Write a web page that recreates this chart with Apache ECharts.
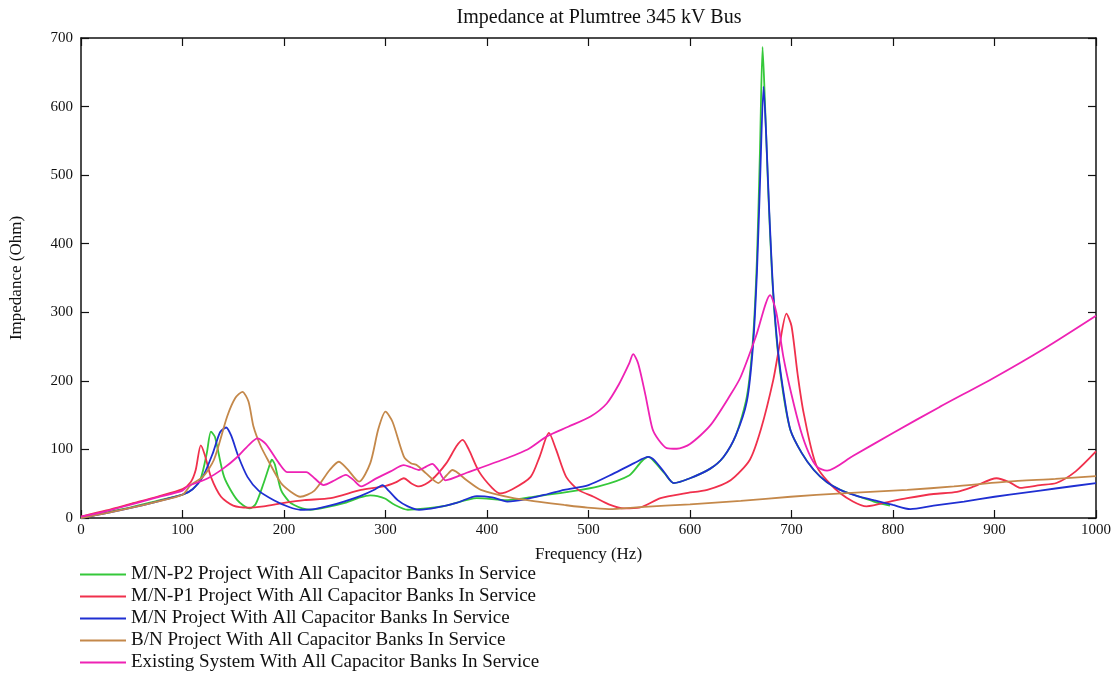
<!DOCTYPE html>
<html>
  <head>
    <meta charset="utf-8">
    <title>Impedance at Plumtree 345 kV Bus</title>
    <script src="https://cdn.jsdelivr.net/npm/echarts@6/dist/echarts.min.js"></script>
    <style>
      html, body { margin: 0; padding: 0; background: #fff; }
      #chart { width: 1119px; height: 677px; }
    </style>
  </head>
  <body>
    <div id="chart"></div>
    <script type="text/javascript">

      // series names (legend order)
      var names = [
        "M/N-P2 Project With All Capacitor Banks In Service",
        "M/N-P1 Project With All Capacitor Banks In Service",
        "M/N Project With All Capacitor Banks In Service",
        "B/N Project With All Capacitor Banks In Service",
        "Existing System With All Capacitor Banks In Service"
      ];
      var colors = ["#35c83a", "#f0304c", "#1f2fd2", "#c4884a", "#ee22b4"];

      // M/N-P2
      var p2Freq = [0,25,50,75,100,110,118,124,128,132,141,154,166,172,180,186,188,191,197,205,210,218,226,240,260,275,285,292,300,308,322,340,360,390,420,450,480,510,540,552,559,565,575,584,600,620,633,645,656,662,666,669,671.5,674,677,681,686,692,699,710,722,735,748,765,781,797];
      var p2Ohm  = [0,8,16,25,34,42,58,95,126,118,60,26,14,20,51,78,85,78,41,24,19,14,12,15,22,30,33,32,28,20,12,14,18,29,26,32,38,46,62,82,89,82,65,51,58,72,89,120,177,260,380,540,687,600,480,350,250,180,128,95,70,52,41,32,24,18];

      // M/N-P1
      var p1Freq = [0,25,50,75,100,108,113,118,122,128,138,150,165,180,200,220,246,276,298,310,318,326,333,345,360,370,376,382,392,405,413,425,443,452,461,468,478,490,505,520,535,550,571,595,617,640,659,670,682,688,695,700,706,712,725,748,774,800,814,840,863,880,902,915,925,945,961,980,1000];
      var p1Ohm  = [2,11,21,31,42,52,70,106,92,60,31,18,15,17,22,26,29,41,46,52,58,50,46,55,80,105,114,100,68,44,36,42,60,90,124,100,60,41,31,20,14,15,29,36,41,55,85,130,201,250,298,280,210,153,75,36,17,25,29,35,38,46,58,52,44,48,51,68,97];

      // M/N
      var mnFreq = [0,25,50,75,100,110,120,130,137,143,148,155,164,175,190,205,216,230,245,259,275,290,297,303,312,322,333,350,370,390,405,420,440,460,476,500,525,545,559,565,575,584,600,620,633,645,656,662,666,669,672.5,675,678,682,687,693,699,710,722,735,748,765,781,800,817,840,870,900,930,960,1000];
      var mnOhm  = [0,7,15,24,34,42,60,95,125,132,120,90,60,40,26,16,12,13,18,24,32,42,48,40,26,17,12,15,22,32,30,24,28,35,41,48,65,80,89,84,66,51,58,72,89,120,170,250,360,490,629,560,450,330,240,175,128,95,70,52,41,32,26,19,13,18,24,31,37,43,51];

      // B/N
      var bnFreq = [0,25,50,75,100,108,120,131,144,152,159,165,170,177,184,197,207,216,230,245,254,262,274,285,293,300,307,318,325,331,340,352,360,366,380,394,426,450,476,499,520,551,600,650,699,750,814,860,912,960,1000];
      var bnOhm  = [0,7,15,24,34,48,60,85,148,175,184,170,133,105,85,51,38,31,40,70,82,72,53,80,130,155,140,90,80,77,65,51,62,70,55,41,29,24,19,15,13,16,20,25,31,36,41,46,53,57,61];

      // Existing system
      var exFreq = [0,25,50,75,100,105,125,140,154,165,174,182,195,203,212,222,230,239,250,261,268,276,290,305,318,325,333,340,346,352,359,380,410,440,459,480,502,518,530,540,544,549,556,563,569,577,587,600,620,640,650,665,679,685,692,700,709,717,725,735,760,800,846,900,950,1000];
      var exOhm  = [2,10,20,30,40,46,58,72,89,106,116,108,80,67,67,67,58,48,55,63,56,46,57,68,77,74,70,75,79,70,55,66,82,100,119,133,148,167,195,225,239,225,180,130,114,102,101,108,135,180,206,265,325,300,235,180,128,95,75,69,90,124,162,205,248,295];

      var freqs = [p2Freq, p1Freq, mnFreq, bnFreq, exFreq];
      var ohms  = [p2Ohm, p1Ohm, mnOhm, bnOhm, exOhm];

      var font = "'Liberation Serif', 'DejaVu Serif', serif";

      function pairs(fx, zy){
        var out = [];
        for( var i = 0; i < fx.length; i++ ){
          out.push([fx[i], zy[i]]);
        }
        return out;
      }

      var series = [];
      for( var s = 0; s < names.length; s++ ){
        series.push({
          name: names[s],
          type: "line",
          data: pairs(freqs[s], ohms[s]),
          showSymbol: false,
          symbol: "none",
          smooth: 0.25,
          lineStyle: { width: 1.8, color: colors[s] },
          itemStyle: { color: colors[s] },
          xAxisIndex: 0,
          yAxisIndex: 0
        });
      }

      var tickStyle = { show: true, inside: true, length: 8, lineStyle: { color: "#111", width: 1.2 } };
      var lineStyle = { show: true, onZero: false, lineStyle: { color: "#111", width: 1.5 } };

      var myChart = echarts.init(document.getElementById("chart"));
      myChart.setOption({
        backgroundColor: "#fff",
        animation: false,
        title: {
          text: "Impedance at Plumtree 345 kV Bus",
          left: 594,
          textAlign: "center",
          top: 3,
          textStyle: { fontFamily: font, fontSize: 20, fontWeight: "normal", color: "#111" }
        },
        legend: {
          orient: "vertical",
          left: 80,
          top: 565,
          height: 112,
          padding: 0,
          icon: "rect",
          itemWidth: 46,
          itemHeight: 2,
          itemGap: 3,
          textStyle: { fontFamily: font, fontSize: 19, lineHeight: 19, color: "#111" },
          data: names
        },
        grid: { left: 80, right: 23, top: 38, bottom: 159 },
        xAxis: [{
          type: "value",
          min: 0, max: 1000, interval: 100,
          name: "Frequency (Hz)",
          nameLocation: "middle",
          nameGap: 28,
          nameTextStyle: { fontFamily: font, fontSize: 17, color: "#111" },
          axisLine: lineStyle,
          axisTick: tickStyle,
          axisLabel: { fontFamily: font, fontSize: 15, color: "#111", margin: 5, formatter: function(v){ return String(v); } },
          splitLine: { show: false }
        }, {
          type: "value",
          position: "top",
          min: 0, max: 1000, interval: 100,
          axisLine: lineStyle,
          axisTick: tickStyle,
          axisLabel: { show: false },
          splitLine: { show: false }
        }],
        yAxis: [{
          type: "value",
          min: 0, max: 700, interval: 100,
          name: "Impedance (Ohm)",
          nameLocation: "middle",
          nameGap: 56,
          nameTextStyle: { fontFamily: font, fontSize: 17, color: "#111" },
          axisLine: lineStyle,
          axisTick: tickStyle,
          axisLabel: { fontFamily: font, fontSize: 15, color: "#111", margin: 8 },
          splitLine: { show: false }
        }, {
          type: "value",
          position: "right",
          min: 0, max: 700, interval: 100,
          axisLine: lineStyle,
          axisTick: tickStyle,
          axisLabel: { show: false },
          splitLine: { show: false }
        }],
        series: series
      });

    </script>
  </body>
</html>
